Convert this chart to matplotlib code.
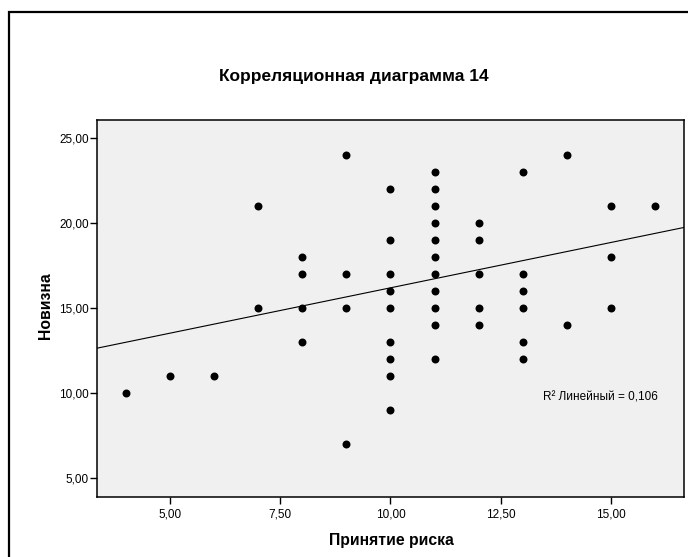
# Корреляционная диаграмма 14 - scatter with linear fit line

import numpy as np
import matplotlib
matplotlib.use('Agg')
import matplotlib.pyplot as plt
from matplotlib.patches import Rectangle

plt.rcParams['font.family'] = ['Liberation Sans', 'DejaVu Sans']

# data (x = risk taking score, y = novelty score)
risk_4 = [10]
risk_5 = [11]
risk_6 = [11]
risk_7 = [21, 15]
risk_8 = [18, 17, 15, 13]
risk_9 = [24, 17, 15, 7]
risk_10 = [22, 19, 17, 16, 15, 13, 12, 11, 9]
risk_11 = [23, 22, 21, 20, 19, 18, 17, 16, 15, 14, 12]
risk_12 = [20, 19, 17, 15, 14]
risk_13 = [23, 17, 16, 15, 13, 12]
risk_14 = [24, 14]
risk_15 = [21, 18, 15]
risk_16 = [21]

groups = {4: risk_4, 5: risk_5, 6: risk_6, 7: risk_7, 8: risk_8, 9: risk_9,
          10: risk_10, 11: risk_11, 12: risk_12, 13: risk_13, 14: risk_14,
          15: risk_15, 16: risk_16}

x_vals = []
y_vals = []
for k, vals in groups.items():
    x_vals += [k] * len(vals)
    y_vals += vals

# fit line as shown in the chart
line_intercept = 10.86
line_slope = 0.533
r2_text = 'R\u00b2 Линейный = 0,106'

x_ticks = [5, 7.5, 10, 12.5, 15]
y_ticks = [5, 10, 15, 20, 25]

fig = plt.figure(figsize=(6.88, 5.57), dpi=100)
W, H = 688, 557

# outer frame of the chart
fig.patches.append(Rectangle((9 / W, -0.1), 1.2, 1 - 12 / H + 0.1,
                             transform=fig.transFigure, fill=False,
                             edgecolor='black', linewidth=1.6))

ax = fig.add_axes([97 / W, 1 - 497 / H, (684 - 97) / W, (497 - 120) / H])
ax.set_facecolor('#f0f0f0')

xlim = (3.345, 16.655)
ax.set_xlim(xlim)
ax.set_ylim(3.9, 26.05)

ax.scatter(x_vals, y_vals, s=33, color='black', zorder=3, linewidths=0)

xs = np.array(xlim)
ax.plot(xs, line_intercept + line_slope * xs, color='black', linewidth=0.8, zorder=2)

ax.set_xticks(x_ticks)
ax.set_xticklabels([f'{t:.2f}'.replace('.', ',') for t in x_ticks])
ax.set_yticks(y_ticks)
ax.set_yticklabels([f'{t:.2f}'.replace('.', ',') for t in y_ticks])
ax.tick_params(direction='out', length=5, width=1, labelsize=8.5, colors='black')
ax.tick_params(axis='y', pad=1)
ax.tick_params(axis='x', pad=3)
for sp in ax.spines.values():
    sp.set_linewidth(1.1)

ax.text(0.955, 0.265, r2_text, transform=ax.transAxes, ha='right', va='center',
        fontsize=8.5)

fig.text(354 / W, 1 - 77 / H, 'Корреляционная диаграмма 14', ha='center',
         va='center', fontsize=12.5, fontweight='bold')
fig.text(391 / W, 1 - 540 / H, 'Принятие риска', ha='center', va='center',
         fontsize=11.3, fontweight='bold')
fig.text(46 / W, 1 - 306 / H, 'Новизна', ha='center', va='center',
         fontsize=11.3, fontweight='bold', rotation=90)

fig.savefig('out.png', dpi=100)
